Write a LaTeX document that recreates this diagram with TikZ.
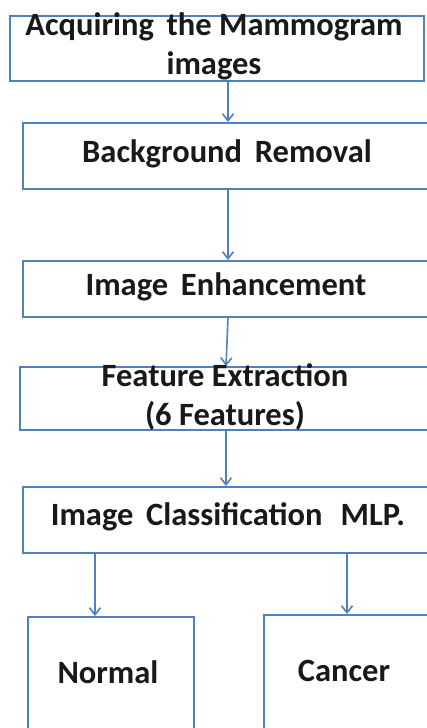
\documentclass[tikz,border=0pt]{standalone}
\usepackage{fontspec}
\setmainfont{Carlito}
\usetikzlibrary{arrows.meta}
\definecolor{boxblue}{RGB}{79,129,189}
\begin{document}
\begin{tikzpicture}[x=1pt,y=-1pt,
  box/.style={draw=boxblue,line width=2pt,rectangle,inner sep=0pt,anchor=north west},
  lbl/.style={anchor=base,inner sep=0pt,font=\fontsize{32.5}{38}\selectfont\bfseries,text=black!90},
  arr/.style={draw=boxblue,line width=1.6pt,-{Straight Barb[length=7pt,width=11pt,line width=1.6pt]}}]
\useasboundingbox (0,0) rectangle (427,728);
\begin{scope}
\clip (0,0) rectangle (427,728);
\node[box,minimum width=414pt,minimum height=65pt] (b1) at (9,15) {};
\node[box,minimum width=420pt,minimum height=66pt] (b2) at (22,122) {};
\node[box,minimum width=420pt,minimum height=56pt] (b3) at (22,260) {};
\node[box,minimum width=420pt,minimum height=63pt] (b4) at (19,366) {};
\node[box,minimum width=420pt,minimum height=66pt] (b5) at (22,486) {};
\node[box,minimum width=166pt,minimum height=130pt] (n) at (27,616) {};
\node[box,minimum width=180pt,minimum height=130pt] (c) at (263,614) {};
\end{scope}
\coordinate (xa) at (228,0);
\coordinate (xb) at (226,0);
\coordinate (xn) at (95,0);
\coordinate (xc) at (347,0);
\draw[arr] (b1.south -| xa) -- (b2.north -| xa);
\draw[arr] (b2.south -| xa) -- (b3.north -| xa);
\draw[arr] (b3.south -| xa) -- (b4.north -| xb);
\draw[arr] (b4.south -| xb) -- (b5.north -| xb);
\draw[arr] (b5.south -| xn) -- (n.north -| xn);
\draw[arr] (b5.south -| xc) -- (c.north -| xc);
\node[lbl] (t1a) at (214,35) {Acquiring\, the Mammogram};
\node[lbl] (t1b) at (214,74) {images};
\node[lbl] (t2) at (227,162) {Background\, Removal};
\node[lbl] (t3) at (226,295) {Image\, Enhancement};
\node[lbl] (t4a) at (225,386) {Feature Extraction};
\node[lbl] (t4b) at (225,425) {(6 Features)};
\node[lbl] (t5) at (228,525) {Image\, Classification\,\, MLP.};
\node[lbl] (tn) at (108,683) {Normal};
\node[lbl] (tc) at (344,681) {Cancer};
\end{tikzpicture}
\end{document}
